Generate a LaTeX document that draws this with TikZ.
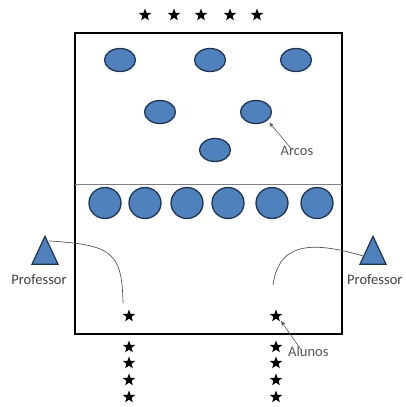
\documentclass[tikz,border=0pt]{standalone}
\usepackage{fontspec}
\setmainfont{Carlito}
\usetikzlibrary{arrows.meta,shapes.geometric}
\definecolor{ArcoBlue}{HTML}{4F81BD}
\definecolor{ArcoLine}{HTML}{1F3455}
\definecolor{NoteGray}{HTML}{555555}

\begin{document}
\begin{tikzpicture}[
    x=1pt, y=-1pt,
    arco/.style={
      ellipse,
      draw=ArcoLine,
      fill=ArcoBlue,
      line width=1.3pt,
      minimum width=31pt,
      minimum height=23pt
    },
    cone/.style={
      arco,
      minimum width=32pt,
      minimum height=31pt
    },
    aluno/.style={
      star, star points=5, star point ratio=2.4,
      fill=black, inner sep=0pt, minimum size=13pt
    },
    prof/.style={
      isosceles triangle, isosceles triangle apex angle=50,
      shape border rotate=90,
      draw=ArcoLine, fill=ArcoBlue, line width=1.2pt,
      inner sep=0pt, minimum height=28pt, minimum width=22pt
    },
    note/.style={font=\fontsize{14.5}{16}\selectfont, text=NoteGray, inner sep=1pt},
    pointer/.style={-{Stealth[length=5pt,width=4pt]}, draw=NoteGray, line width=0.6pt},
    trail/.style={draw=NoteGray, line width=0.7pt}
  ]
    \useasboundingbox[fill=white] (0,0) rectangle (406,407);

    % quadra
    \draw[line width=1.4pt] (75,33) rectangle (342,334);
    \draw[draw=gray, line width=0.7pt] (75,184) -- (342,184);

    % fila de cima
    \foreach \x [count=\i] in {145,174,201,230,257}
      \node[aluno] (topo\i) at (\x,15) {};

    % arcos
    \node[arco] (arco1) at (120,60) {};
    \node[arco] (arco2) at (210,60) {};
    \node[arco] (arco3) at (296,60) {};
    \node[arco] (arco4) at (160,112) {};
    \node[arco] (arco5) at (256,112) {};
    \node[arco] (arco6) at (215,150) {};

    \foreach \x [count=\i] in {105,145,187,228,272,317}
      \node[cone] (cone\i) at (\x,203) {};

    % professores
    \node[prof] (profL) at (45,256) {};
    \node[prof] (profR) at (373,256) {};
    \node[note, text=black!75] (lblL) at (39,280) {Professor};
    \node[note, text=black!75, anchor=west] (lblR) at (346,280) {Professor};

    % alunos
    \node[aluno] (alunoL) at (129,316) {};
    \node[aluno] (alunoR) at (276,316) {};
    \foreach \y [count=\i] in {347,363,380,397} {
      \node[aluno] (filaL\i) at (129,\y) {};
      \node[aluno] (filaR\i) at (276,\y) {};
    }

    % trajetos
    \draw[trail] ([xshift=4pt,yshift=-6pt]profL.north) .. controls (112,245) and (122,252) .. ([xshift=-6pt,yshift=13pt]alunoL.center);
    \draw[trail] ([xshift=-10pt]profR.center) .. controls (300,237) and (278,250) .. ([xshift=-3pt,yshift=31pt]alunoR.center);

    % legendas
    \node[note] (arcos) at (297,151) {Arcos};
    \draw[pointer] (arcos.north west) ++(12pt,-4pt) -- ([xshift=2pt,yshift=-2pt]arco5.south east);
    \node[note, anchor=west] (alunos) at (287,352) {Alunos};
    \draw[pointer] (alunos.north west) ++(14pt,-4pt) -- ([xshift=5pt,yshift=-5pt]alunoR.center);
\end{tikzpicture}
\end{document}
